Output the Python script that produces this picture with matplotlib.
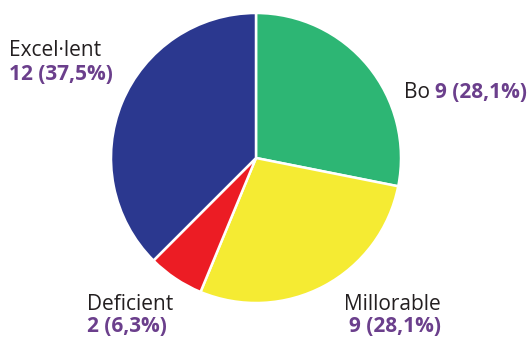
from decimal import Decimal, ROUND_HALF_UP

import matplotlib.pyplot as plt

categories = ["Bo", "Millorable", "Deficient", "Excel·lent"]
counts = [9, 9, 2, 12]
colors = ["#2DB674", "#F5EB33", "#EC1C24", "#2B388F"]

TEXT_DARK = "#231F20"
TEXT_PURPLE = "#6B3F8C"
FONT = "Open Sans"

total = sum(counts)


def value_text(n):
    pct = (Decimal(100 * n) / Decimal(total)).quantize(Decimal("0.1"), rounding=ROUND_HALF_UP)
    return f"{n} ({str(pct).replace('.', ',')}%)"


fig = plt.figure(figsize=(5.3, 3.4), dpi=100)
ax = fig.add_axes([0, 0, 1, 1])

ax.pie(counts, colors=colors, startangle=90, counterclock=False,
       center=(256, 182), radius=145, frame=True,
       wedgeprops=dict(edgecolor="white", linewidth=1.8))
ax.set_xlim(0, 530)
ax.set_ylim(0, 340)
ax.axis("off")

size = 15
name_kw = dict(fontsize=size, color=TEXT_DARK, family=FONT, va="baseline")
val_kw = dict(fontsize=size, color=TEXT_PURPLE, family=FONT, fontweight="bold", va="baseline")

# Excel·lent, top left
ax.text(9, 340 - 56, categories[3], ha="left", **name_kw)
ax.text(9, 340 - 80, value_text(counts[3]), ha="left", **val_kw)

# Bo, right side on one line
t = ax.text(404, 340 - 98, categories[0] + " ", ha="left", **name_kw)
fig.canvas.draw()
bb = t.get_window_extent().transformed(ax.transData.inverted())
ax.text(bb.x1, 340 - 98, value_text(counts[0]), ha="left", **val_kw)

# Deficient, bottom left
ax.text(87, 340 - 310, categories[2], ha="left", **name_kw)
ax.text(87, 340 - 332, value_text(counts[2]), ha="left", **val_kw)

# Millorable, bottom right
ax.text(441, 340 - 310, categories[1], ha="right", **name_kw)
ax.text(441, 340 - 332, value_text(counts[1]), ha="right", **val_kw)

fig.savefig("out.png", dpi=100)
